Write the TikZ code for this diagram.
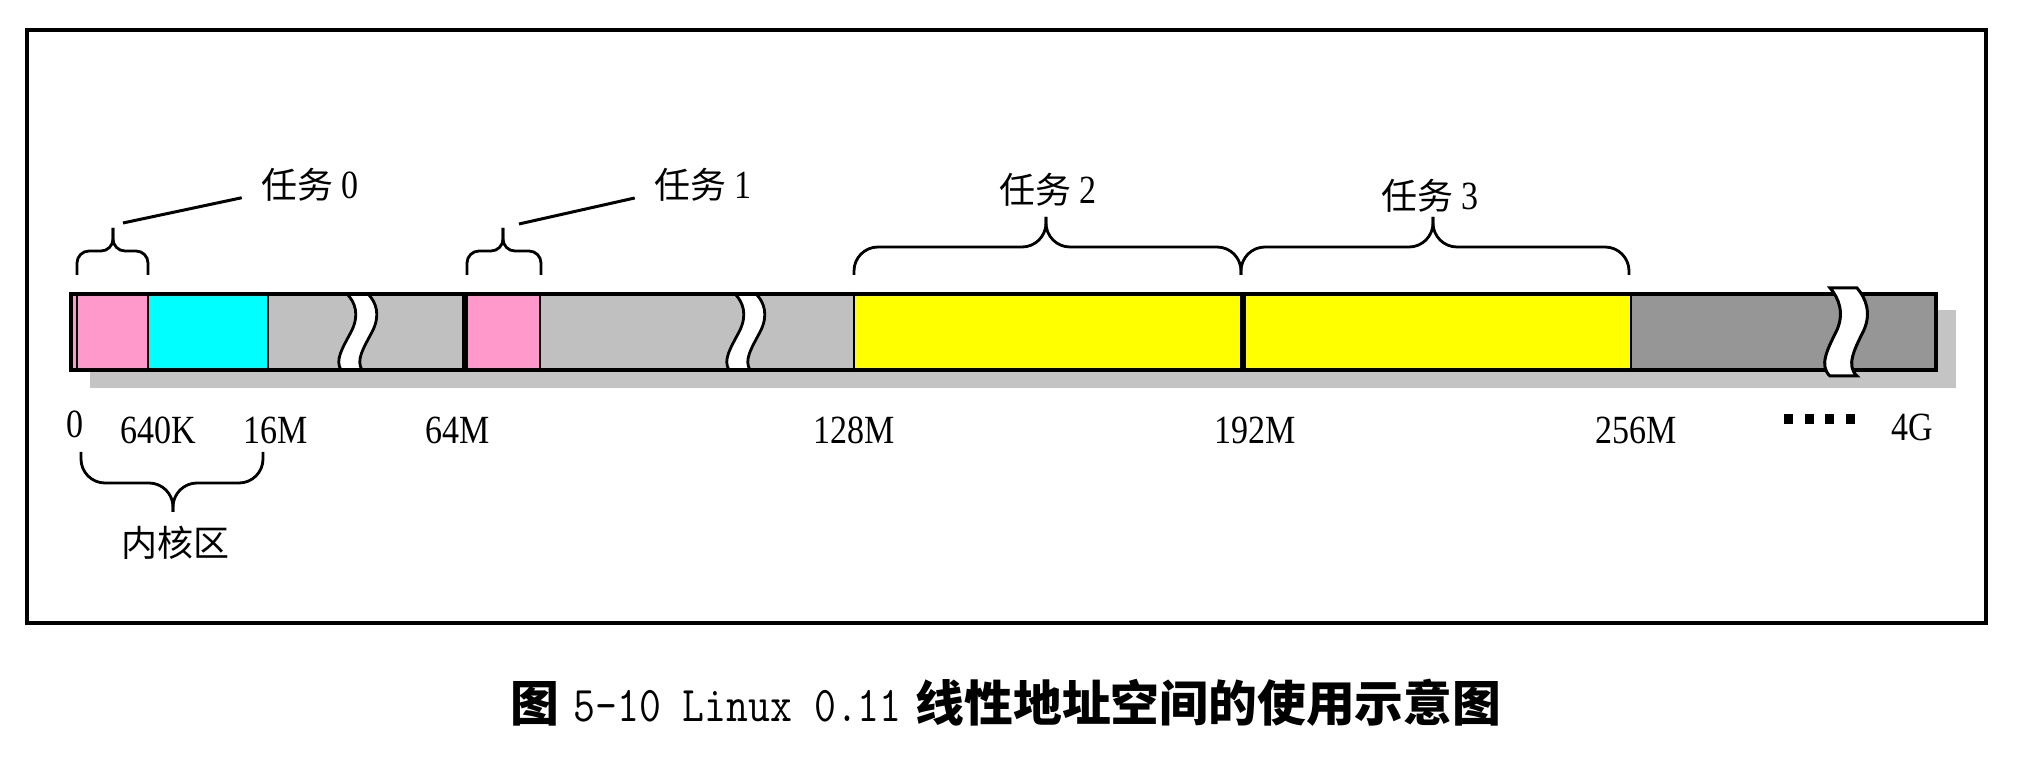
\documentclass[tikz,border=0pt]{standalone}
\usepackage{fontspec}
\setmainfont{Liberation Serif}[FakeStretch=0.85]
\newfontfamily\cjk{Noto Sans CJK SC}
\newfontfamily\mono{Latin Modern Mono}[FakeStretch=0.85]

\definecolor{taskpink}{RGB}{255,153,204}
\definecolor{kernelcyan}{RGB}{0,255,255}
\definecolor{freegray}{RGB}{192,192,192}
\definecolor{highgray}{RGB}{150,150,150}
\definecolor{taskyellow}{RGB}{255,255,0}
\definecolor{shadowgray}{RGB}{196,196,196}

\begin{document}
\begin{tikzpicture}[
    x=0.5pt, y=-0.5pt,
    frame/.style={line width=2pt},
    barline/.style={line width=2pt},
    divider/.style={line width=1.2pt},
    thickdivider/.style={line width=2.6pt},
    brace/.style={line width=1.4pt, rounded corners=#1},
    brace/.default=6pt,
    leader/.style={line width=1.5pt, shorten >=10pt},
    addr/.style={font=\fontsize{20}{22}\selectfont, inner sep=0pt},
    task/.style={font=\fontsize{18}{20}\selectfont, inner sep=0pt},
    caption/.style={font=\fontsize{24.4}{28}\selectfont, inner sep=0pt},
    gapband/.pic={
        \fill[white] (-10,294) .. controls (-2,302) and (3,315) .. (-6,332) .. controls (-15,349) and (-22,360) .. (-16,370)
            -- (5,370) .. controls (-1,360) and (6,349) .. (15,332) .. controls (24,315) and (19,302) .. (11,294) -- cycle;
        \draw[line width=1.4pt] (-10,294) .. controls (-2,302) and (3,315) .. (-6,332) .. controls (-15,349) and (-22,360) .. (-16,370);
        \draw[line width=1.4pt] (11,294) .. controls (19,302) and (24,315) .. (15,332) .. controls (6,349) and (-1,360) .. (5,370);
    },
    gapcut/.pic={
        \filldraw[fill=white, line width=1.5pt] (-13,288) .. controls (-4,298) and (2,314) .. (-7,332) .. controls (-16,350) and (-24,366) .. (-13,376)
            -- (14,376) .. controls (3,366) and (11,350) .. (20,332) .. controls (29,314) and (23,298) .. (14,288) -- cycle;
    }
]
\useasboundingbox (0,0) rectangle (2024,758);

% Outer frame
\draw[frame] (27,30) rectangle (1986,623);

% Shadow under the address bar
\fill[shadowgray] (90,310) rectangle (1956,388);

% Address bar segments
\fill[taskpink] (71,294) rectangle (148,370);
\fill[kernelcyan] (148,294) rectangle (268,370);
\fill[freegray] (268,294) rectangle (465,370);
\fill[taskpink] (465,294) rectangle (540,370);
\fill[freegray] (540,294) rectangle (854,370);
\fill[taskyellow] (854,294) rectangle (1631,370);
\fill[highgray] (1631,294) rectangle (1936,370);

% Breaks in the gray parts
\pic at (357,0) {gapband};
\pic at (745,0) {gapband};

% Segment borders
\foreach \x in {77,148,268,540,854,1631}
    \draw[divider] (\x,294) -- (\x,370);
\foreach \x in {465,1243}
    \draw[thickdivider] (\x,294) -- (\x,370);
\draw[barline] (71,294) rectangle (1936,370);

% Break in the upper part
\pic at (1843,0) {gapcut};

% Addresses
\node[addr] (a0) at (75,424) {0};
\node[addr] (a640k) at (158,430) {640K};
\node[addr] (a16m) at (276,430) {16M};
\node[addr] (a64m) at (458,430) {64M};
\node[addr] (a128m) at (854,430) {128M};
\node[addr] (a192m) at (1255,430) {192M};
\node[addr] (a256m) at (1636,430) {256M};
\node[addr] (a4g) at (1912,427) {4G};
\foreach \i in {0,...,3}
    \fill (1784+20.5*\i,414) rectangle ++(9,10);

% Braces over the tasks
\foreach \l/\m/\r in {77/113/148, 467/503/541} {
    \draw[brace] (\l,275) |- (\m,251) -- (\m,228);
    \draw[brace] (\r,275) |- (\m,251) -- (\m,228);
}
\foreach \l/\m/\r in {854/1046/1241, 1241/1433/1629} {
    \draw[brace=12pt] (\l,275) |- (\m,247) -- (\m,217);
    \draw[brace=12pt] (\r,275) |- (\m,247) -- (\m,217);
}

% Brace under the kernel area
\draw[brace=12pt] (81,452) |- (173,483) -- (173,512);
\draw[brace=12pt] (263,452) |- (173,483) -- (173,512);

% Task labels
\node[task] (task0) at (310,185) {{\cjk 任务} {\fontsize{20}{22}\selectfont 0}};
\node[task] (task1) at (703,185) {{\cjk 任务} {\fontsize{20}{22}\selectfont 1}};
\node[task] (task2) at (1048,190) {{\cjk 任务} {\fontsize{20}{22}\selectfont 2}};
\node[task] (task3) at (1430,196) {{\cjk 任务} {\fontsize{20}{22}\selectfont 3}};
\node[task] (kernel) at (175,543) {\cjk 内核区};

\coordinate (lead0) at (123,223);
\coordinate (lead1) at (519,224);
\draw[leader] (lead0) -- (task0.190);
\draw[leader] (lead1) -- (task1.190);

% Caption
\node[caption] (fig) at (1006,703) {{\cjk\bfseries 图}\hspace{7pt}{\mono\fontsize{25}{28}\selectfont 5-10 Linux 0.11}\hspace{7pt}{\cjk\bfseries 线性地址空间的使用示意图}};

\end{tikzpicture}
\end{document}
